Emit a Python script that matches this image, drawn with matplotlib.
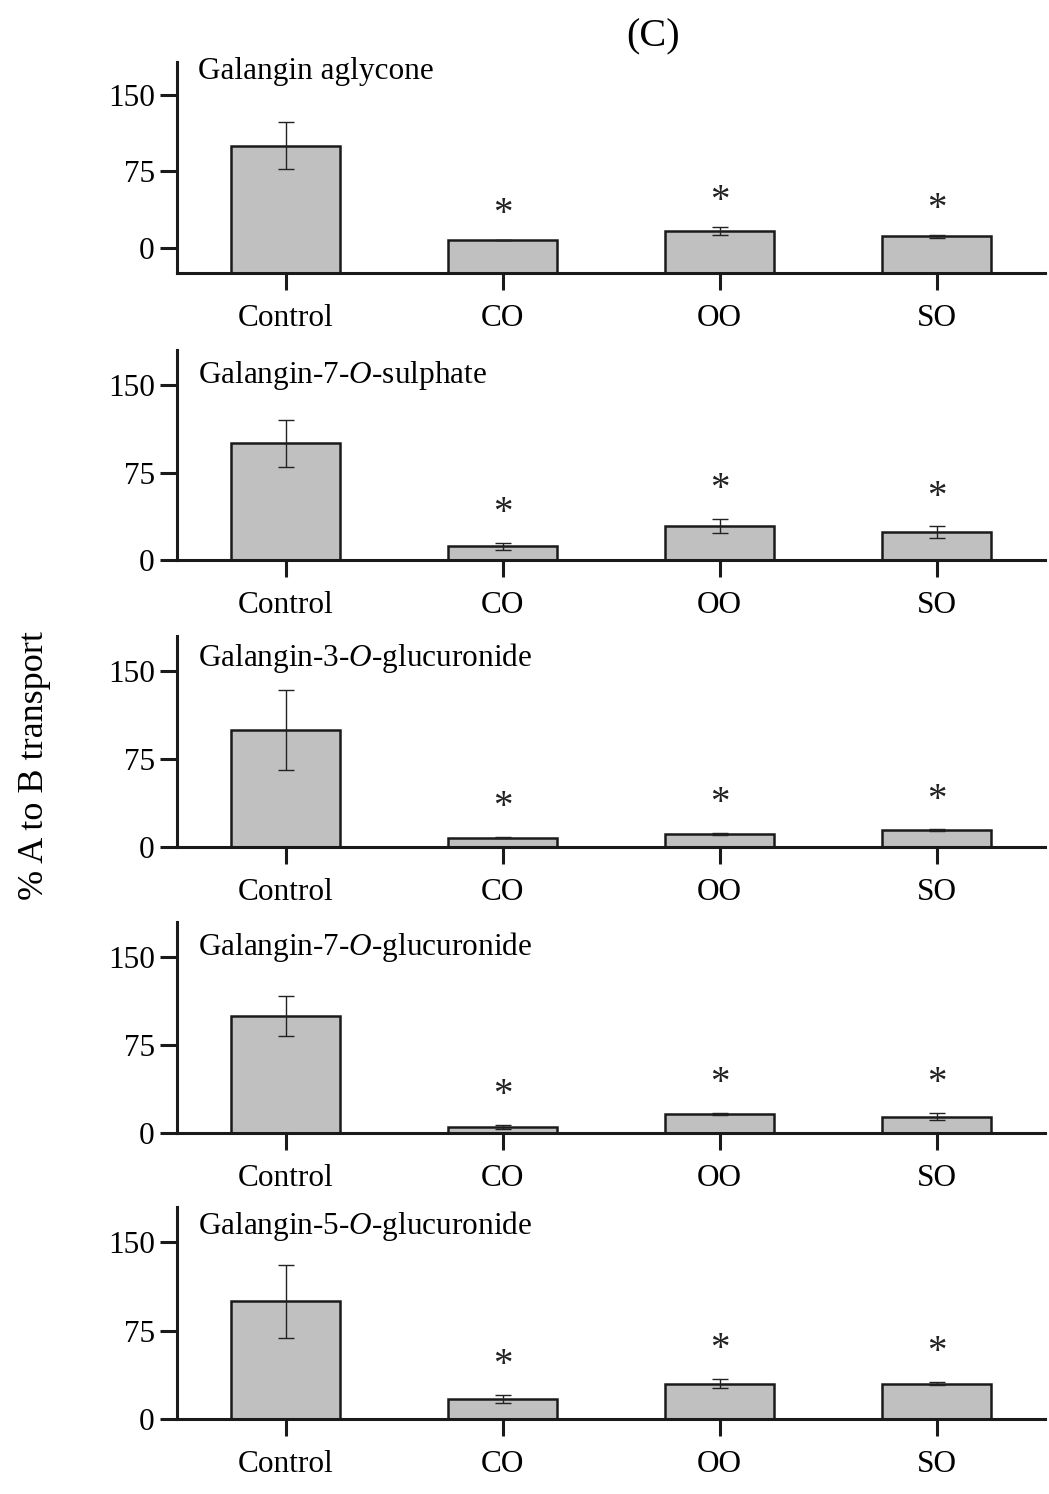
import matplotlib.pyplot as plt
import numpy as np

plt.rcParams['font.family'] = ['Liberation Serif', 'DejaVu Serif']
plt.rcParams['mathtext.fontset'] = 'custom'
plt.rcParams['mathtext.rm'] = 'Liberation Serif'
plt.rcParams['mathtext.it'] = 'Liberation Serif:italic'

groups = ['Control', 'CO', 'OO', 'SO']
titles = ['Galangin aglycone',
          'Galangin-7-$\\mathit{O}$-sulphate',
          'Galangin-3-$\\mathit{O}$-glucuronide',
          'Galangin-7-$\\mathit{O}$-glucuronide',
          'Galangin-5-$\\mathit{O}$-glucuronide']

aglycone = [100, 7, 16, 11]
aglycone_err = [23, 0, 4, 1.5]
sulphate7 = [100, 12, 29, 24]
sulphate7_err = [20, 3, 6, 5]
glucuronide3 = [100, 8, 11, 14.5]
glucuronide3_err = [34, 0.5, 1, 0.5]
glucuronide7 = [100, 5, 16, 14]
glucuronide7_err = [17, 2, 1, 3]
glucuronide5 = [100, 17, 30, 30]
glucuronide5_err = [31, 3, 4, 1.5]

means = [aglycone, sulphate7, glucuronide3, glucuronide7, glucuronide5]
errs = [aglycone_err, sulphate7_err, glucuronide3_err, glucuronide7_err, glucuronide5_err]
signif = [False, True, True, True]

W, H = 1049, 1494
fig = plt.figure(figsize=(W / 100, H / 100), dpi=100)

# pixel geometry of the panels (axis line y, top of spine y)
axis_y = [273, 560, 847, 1133, 1419]
top_y = [62, 350, 636, 922, 1207]
ylims = [(-25, 182), (0, 180), (0, 180), (0, 180), (0, 180)]
title_off = [10, 25, 22, 25, 19]
left, right = 177, 1045

x = np.arange(len(groups))
fs = 22.5

for i in range(5):
    ax = fig.add_axes([left / W, 1 - axis_y[i] / H, (right - left) / W, (axis_y[i] - top_y[i]) / H])
    y0 = ylims[i][0]
    vals = np.array(means[i])
    ax.bar(x, vals - y0, bottom=y0, width=0.5, color='#c0c0c0', edgecolor='#1a1a1a', linewidth=1.8, zorder=2)
    ax.errorbar(x, vals, yerr=errs[i], fmt='none', ecolor='#222222', elinewidth=1.0, capsize=6, capthick=1.0, zorder=3)
    for j in range(len(groups)):
        if signif[j]:
            ax.text(x[j], vals[j] + errs[i][j] + 25, '*', ha='center', va='center', fontsize=28, color='#222222')
    ax.set_xlim(-0.5, 3.5)
    ax.set_ylim(*ylims[i])
    ax.set_yticks([0, 75, 150])
    ax.set_xticks(x)
    ax.set_xticklabels(groups)
    ax.spines['top'].set_visible(False)
    ax.spines['right'].set_visible(False)
    for s in ['left', 'bottom']:
        ax.spines[s].set_linewidth(2.2)
        ax.spines[s].set_color('#1a1a1a')
    ax.tick_params(axis='both', direction='out', length=12, width=2.2, color='#1a1a1a', labelsize=fs)
    ax.tick_params(axis='y', pad=4)
    ax.tick_params(axis='x', pad=10)
    ax.patch.set_alpha(0)
    hpx = axis_y[i] - top_y[i]
    ax.text(21 / (right - left), 1 - title_off[i] / hpx, titles[i], transform=ax.transAxes,
            ha='left', va='center', fontsize=fs)

fig.text(653 / W, 1 - 37 / H, '(C)', ha='center', va='center', fontsize=29)
fig.text(35 / W, 1 - 765 / H, '% A to B transport', ha='center', va='center', rotation=90, fontsize=26)

fig.savefig('out.png', dpi=100, facecolor='white')
